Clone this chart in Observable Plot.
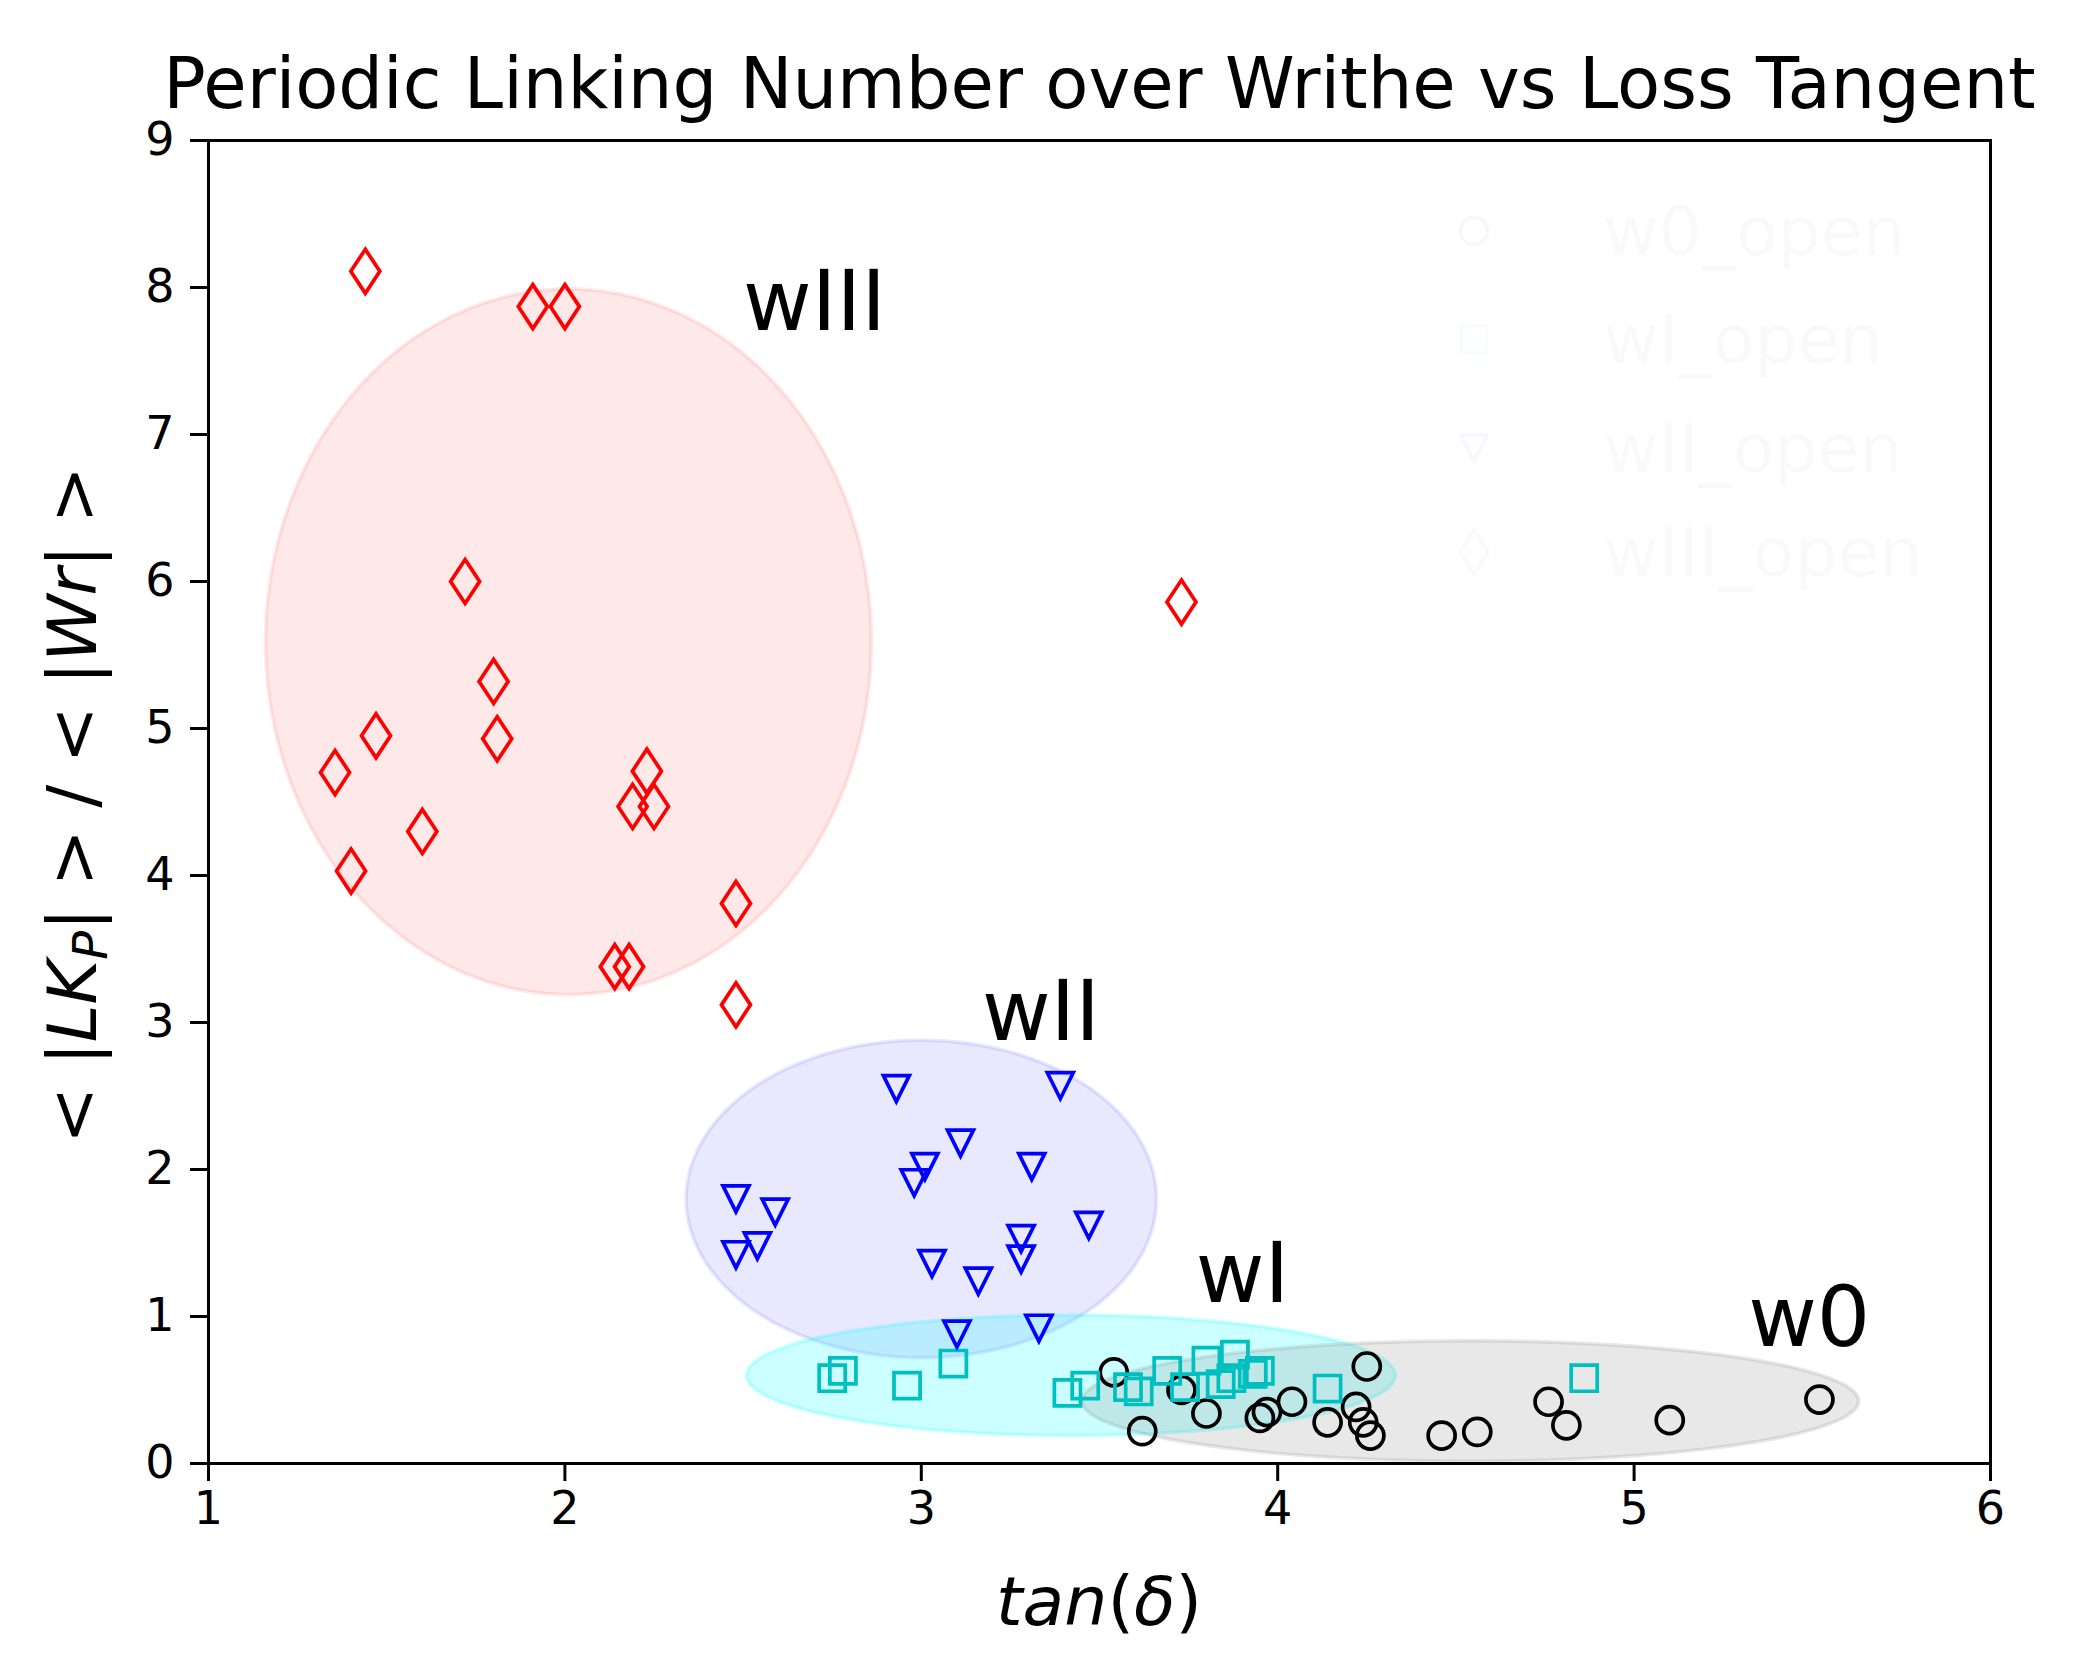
<!DOCTYPE html>
<html><head><meta charset="utf-8">
<script src="https://cdn.jsdelivr.net/npm/d3@7"></script>
<script src="https://cdn.jsdelivr.net/npm/@observablehq/plot@0.6"></script>
<style>html,body{margin:0;padding:0;background:#fff;} svg{display:block;}</style>
</head><body><div id="chart"></div>
<script>
// ---- data ----
const xTicks = [1, 2, 3, 4, 5, 6];
const yTicks = [0, 1, 2, 3, 4, 5, 6, 7, 8, 9];

const w0X = [3.54, 3.62, 3.73, 3.80, 3.95, 3.97, 4.04, 4.14, 4.22, 4.24, 4.25, 4.26, 4.46, 4.56, 4.76, 4.81, 5.10, 5.52];
const w0Y = [0.62, 0.22, 0.50, 0.34, 0.31, 0.35, 0.42, 0.28, 0.385, 0.28, 0.66, 0.19, 0.19, 0.215, 0.42, 0.26, 0.295, 0.435];

const wIX = [2.75, 2.78, 2.96, 3.09, 3.41, 3.46, 3.58, 3.61, 3.69, 3.74, 3.80, 3.84, 3.87, 3.88, 3.93, 3.95, 4.14, 4.86];
const wIY = [0.58, 0.63, 0.53, 0.68, 0.48, 0.53, 0.52, 0.49, 0.63, 0.52, 0.70, 0.54, 0.58, 0.74, 0.61, 0.63, 0.51, 0.58];

const wIIX = [2.93, 3.39, 3.11, 3.01, 2.98, 3.31, 2.48, 2.59, 3.47, 3.28, 3.28, 2.54, 2.48, 3.03, 3.16, 3.10, 3.33];
const wIIY = [2.55, 2.57, 2.18, 2.02, 1.91, 2.02, 1.80, 1.71, 1.62, 1.53, 1.39, 1.48, 1.42, 1.36, 1.24, 0.88, 0.92];

const wIIIX = [1.44, 1.91, 2.00, 1.72, 3.73, 1.80, 1.47, 1.81, 1.355, 2.23, 2.19, 2.25, 1.60, 1.40, 2.48, 2.14, 2.18, 2.48];
const wIIIY = [8.11, 7.87, 7.87, 6.00, 5.86, 5.32, 4.95, 4.93, 4.70, 4.71, 4.47, 4.47, 4.30, 4.03, 3.81, 3.38, 3.38, 3.12];

// group ellipses (center and semi-axes in data units)
const ellipseNames = ["wIII", "wII", "wI", "w0"];
const ellipseCx = [2.01, 3.00, 3.42, 4.54];
const ellipseCy = [5.59, 1.80, 0.60, 0.425];
const ellipseRx = [0.85, 0.66, 0.91, 1.09];
const ellipseRy = [2.40, 1.08, 0.41, 0.41];

const annoLabels = ["wIII", "wII", "wI", "w0"];
const annoX = [2.50, 3.17, 3.77, 5.32];
const annoY = [7.71, 2.88, 1.10, 0.80];

const legendLabels = ["w0_open", "wI_open", "wII_open", "wIII_open"];

const title = "Periodic Linking Number over Writhe vs Loss Tangent";

// ---- styles ----
const ellipseColors = ["red", "blue", "#00ffff", "gray"];
const ellipseAlpha = [0.09, 0.09, 0.2, 0.18];
const FONT = "DejaVu Sans";

const toRows = (xs, ys) => xs.map((x, i) => ({x, y: ys[i]}));
const w0 = toRows(w0X, w0Y), wI = toRows(wIX, wIY), wII = toRows(wIIX, wIIY), wIII = toRows(wIIIX, wIIIY);
const annos = annoLabels.map((t, i) => ({t, x: annoX[i], y: annoY[i]}));

const thinDiamond = {draw(ctx, size) { const r = Math.sqrt(size / Math.PI); ctx.moveTo(0, -r); ctx.lineTo(0.66 * r, 0); ctx.lineTo(0, r); ctx.lineTo(-0.66 * r, 0); ctx.closePath(); }};
const triDown = {draw(ctx, size) { const r = Math.sqrt(size / Math.PI); ctx.moveTo(-r, -r); ctx.lineTo(r, -r); ctx.lineTo(0, r); ctx.closePath(); }};

const angles = d3.range(0, 360, 2);
const ellipseMarks = ellipseNames.map((n, i) => {
  const pts = angles.map(a => ({x: ellipseCx[i] + ellipseRx[i] * Math.cos(a * Math.PI / 180), y: ellipseCy[i] + ellipseRy[i] * Math.sin(a * Math.PI / 180)}));
  return Plot.line(pts, {x: "x", y: "y", curve: "linear-closed", fill: ellipseColors[i], fillOpacity: ellipseAlpha[i], stroke: ellipseColors[i], strokeOpacity: ellipseAlpha[i], strokeWidth: 3.7});
});

const svg = Plot.plot({
  width: 2084, height: 1672,
  marginLeft: 208, marginRight: 94, marginTop: 140, marginBottom: 209,
  style: {fontFamily: FONT, fontSize: "46px", color: "black", background: "white"},
  x: {domain: [1, 6], label: null},
  y: {domain: [0, 9], label: null},
  marks: [
    ...ellipseMarks,
    Plot.dot(w0, {x: "x", y: "y", r: 13.5, symbol: "circle", fill: "none", stroke: "black", strokeWidth: 3.7}),
    Plot.dot(wI, {x: "x", y: "y", r: 14.7, symbol: "square", fill: "none", stroke: "#00bfbf", strokeWidth: 3.7}),
    Plot.dot(wII, {x: "x", y: "y", r: 13, symbol: triDown, fill: "none", stroke: "blue", strokeWidth: 3.7}),
    Plot.dot(wIII, {x: "x", y: "y", r: 22, symbol: thinDiamond, fill: "none", stroke: "red", strokeWidth: 3.7}),
    Plot.text(annos, {x: "x", y: "y", text: "t", textAnchor: "start", lineAnchor: "bottom", fontSize: 84, fill: "black"}),
    Plot.frame({stroke: "black", strokeWidth: 3}),
    Plot.axisX({ticks: xTicks, tickFormat: d => String(d), tickSize: 18, tickPadding: 10, fontSize: 46, strokeWidth: 3, label: null}),
    Plot.axisY({ticks: yTicks, tickFormat: d => String(d), tickSize: 18, tickPadding: 16, fontSize: 46, strokeWidth: 3, label: null}),
    Plot.text([title], {text: d => d, frameAnchor: "top", dy: -33, lineAnchor: "bottom", fontSize: 70.5, fill: "black"})
  ]
});

const s = d3.select(svg);
// x label: tan(δ)
const xl = s.append("text").attr("x", 1099).attr("y", 1625).attr("text-anchor", "middle")
  .attr("font-family", FONT).attr("font-size", 68).attr("fill", "black");
xl.append("tspan").attr("font-style", "italic").text("tan");
xl.append("tspan").text("(");
xl.append("tspan").attr("font-style", "italic").text("δ");
xl.append("tspan").text(")");

// y label: < |LK_P| > / < |Wr| >
const yl = s.append("text").attr("transform", "translate(96,805) rotate(-90)").attr("text-anchor", "middle")
  .attr("font-family", FONT).attr("font-size", 68).attr("fill", "black");
yl.append("tspan").text("< |");
yl.append("tspan").attr("font-style", "italic").text("LK");
yl.append("tspan").attr("font-style", "italic").attr("font-size", 48).attr("dy", "0.22em").text("P");
yl.append("tspan").attr("dy", "-0.15em").text("| > / < |");
yl.append("tspan").attr("font-style", "italic").text("Wr");
yl.append("tspan").text("| >");

// near-invisible legend (as in the reference)
const lg = s.append("g");
lg.append("rect").attr("x", 1375).attr("y", 173).attr("width", 575).attr("height", 437).attr("rx", 12)
  .attr("fill", "white").attr("stroke", "#000").attr("stroke-opacity", 0.004).attr("stroke-width", 2);
const legendSymbols = [d3.symbolCircle, d3.symbolSquare, triDown, thinDiamond];
const legendSizes = [13.5, 14.7, 13, 22];
const legendColors = ["black", "#00bfbf", "blue", "red"];
const rowY = [231, 339, 448, 552];
legendLabels.forEach((t, i) => {
  lg.append("path").attr("transform", `translate(1474,${rowY[i]})`)
    .attr("d", d3.symbol(legendSymbols[i], Math.PI * legendSizes[i] ** 2)())
    .attr("fill", "none").attr("stroke", legendColors[i]).attr("stroke-opacity", 0.03).attr("stroke-width", 3.7);
  lg.append("text").attr("x", 1603).attr("y", rowY[i]).attr("dy", "0.35em").attr("text-anchor", "start")
    .attr("font-family", FONT).attr("font-size", 68).attr("fill", "black").attr("fill-opacity", 0.025).text(t);
});

document.getElementById("chart").appendChild(svg);
</script></body></html>
